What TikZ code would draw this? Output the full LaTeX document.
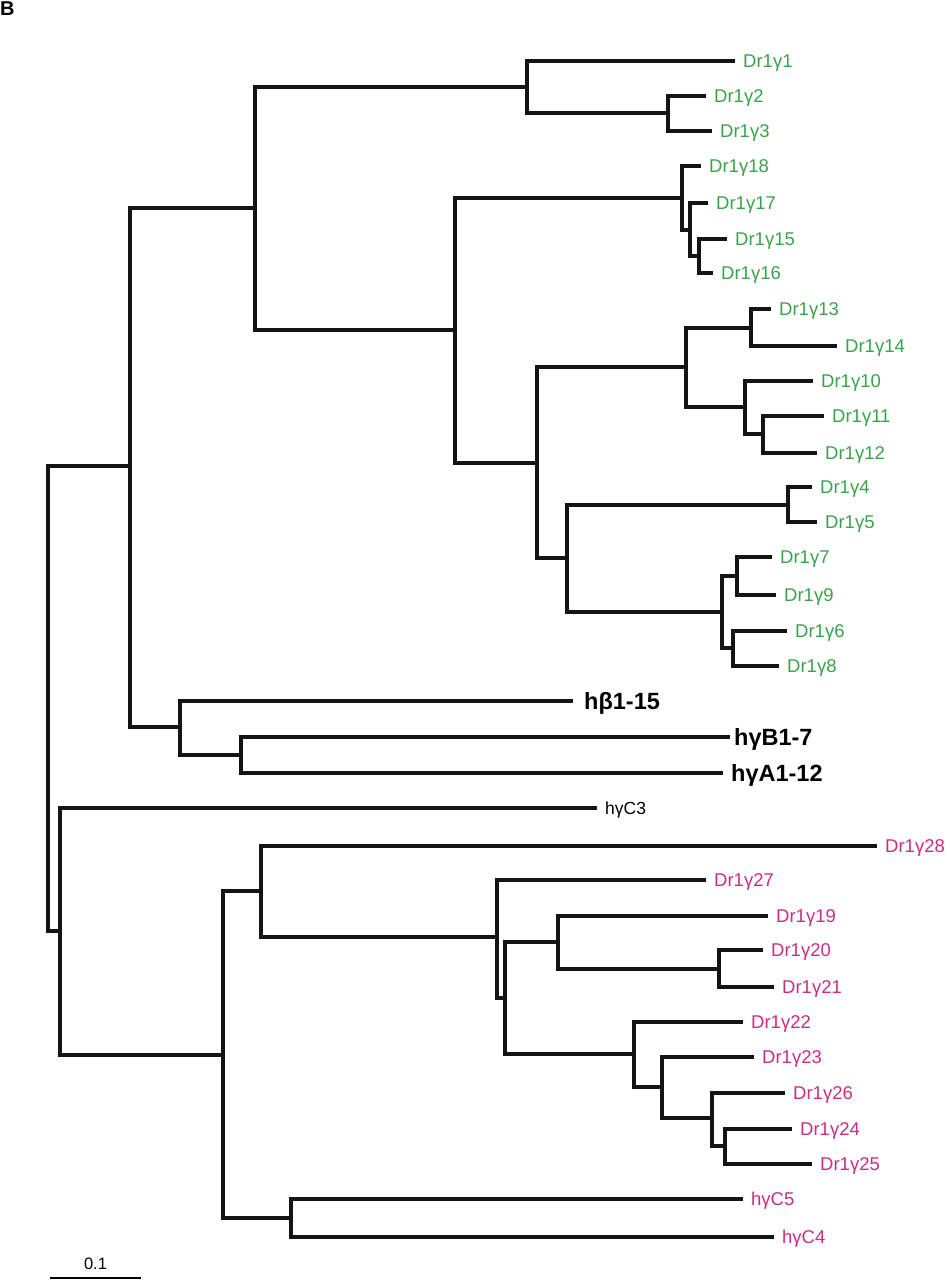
\documentclass[tikz,border=0pt]{standalone}
\usepackage{fontspec}
\setmainfont{Liberation Sans}
\definecolor{dgreen}{RGB}{58,162,72}
\definecolor{dmag}{RGB}{202,45,130}
\begin{document}
\begin{tikzpicture}[x=1pt,y=-1pt,
  branch/.style={line width=3.2pt, line join=miter, black!92},
  glab/.style={anchor=base west, inner sep=0pt, xshift=8pt, yshift=-6.6pt, font=\fontsize{18.5}{20}\selectfont, text=dgreen},
  mlab/.style={anchor=base west, inner sep=0pt, xshift=8pt, yshift=-6.6pt, font=\fontsize{18.5}{20}\selectfont, text=dmag},
  blab/.style={anchor=base west, inner sep=0pt, xshift=8pt, yshift=-8.4pt, font=\fontsize{23.5}{25}\selectfont\bfseries, text=black},
  klab/.style={anchor=base west, inner sep=0pt, xshift=8pt, yshift=-6.2pt, font=\fontsize{17.5}{19}\selectfont, text=black}]
\useasboundingbox (0,0) rectangle (950,1280);
% internal nodes
\coordinate (R) at (48,698);
\coordinate (A) at (130,466);
\coordinate (B) at (255,208);
\coordinate (B1) at (527,87);
\coordinate (B1a) at (668,113);
\coordinate (B2) at (455,330);
\coordinate (B3) at (682,198);
\coordinate (B3a) at (690,230);
\coordinate (B3b) at (699,256);
\coordinate (B4) at (537,463);
\coordinate (B5) at (686,367);
\coordinate (B5a) at (751,328);
\coordinate (B5b) at (745,407);
\coordinate (B5c) at (763,434);
\coordinate (B6) at (567,558);
\coordinate (B6a) at (788,505);
\coordinate (B6b) at (722,612);
\coordinate (B6c) at (737,576);
\coordinate (B6d) at (733,648);
\coordinate (H) at (180,727);
\coordinate (H2) at (241,755);
\coordinate (C) at (60,931);
\coordinate (D) at (223,1055);
\coordinate (E) at (261,891);
\coordinate (E2) at (497,937);
\coordinate (E3) at (505,998);
\coordinate (E4) at (558,942);
\coordinate (E4a) at (719,969);
\coordinate (E5) at (634,1054);
\coordinate (E6) at (662,1087);
\coordinate (E7) at (712,1118);
\coordinate (E8) at (725,1146);
\coordinate (F) at (291,1218);
% leaves
\coordinate (g1) at (735,61);
\coordinate (g2) at (706,96);
\coordinate (g3) at (712,131);
\coordinate (g18) at (701,166);
\coordinate (g17) at (708,203);
\coordinate (g15) at (727,239);
\coordinate (g16) at (713,273);
\coordinate (g13) at (771,309);
\coordinate (g14) at (837,346);
\coordinate (g10) at (813,381);
\coordinate (g11) at (824,416);
\coordinate (g12) at (817,453);
\coordinate (g4) at (812,487);
\coordinate (g5) at (817,522);
\coordinate (g7) at (772,557);
\coordinate (g9) at (776,595);
\coordinate (g6) at (787,631);
\coordinate (g8) at (779,666);
\coordinate (hb) at (573,701);
\coordinate (hgB) at (730,737);
\coordinate (hgA) at (723,773);
\coordinate (hgC3) at (597,808);
\coordinate (g28) at (877,846);
\coordinate (g27) at (706,880);
\coordinate (g19) at (768,916);
\coordinate (g20) at (763,950);
\coordinate (g21) at (774,987);
\coordinate (g22) at (743,1022);
\coordinate (g23) at (754,1057);
\coordinate (g26) at (785,1093);
\coordinate (g24) at (792,1129);
\coordinate (g25) at (812,1164);
\coordinate (hgC5) at (743,1199);
\coordinate (hgC4) at (774,1237);
% branches
\draw[branch] (R) |- (A) (R) |- (C)
  (A) |- (B) (A) |- (H)
  (B) |- (B1) (B) |- (B2)
  (B1) |- (g1) (B1) |- (B1a)
  (B1a) |- (g2) (B1a) |- (g3)
  (B2) |- (B3) (B2) |- (B4)
  (B3) |- (g18) (B3) |- (B3a)
  (B3a) |- (g17) (B3a) |- (B3b)
  (B3b) |- (g15) (B3b) |- (g16)
  (B4) |- (B5) (B4) |- (B6)
  (B5) |- (B5a) (B5) |- (B5b)
  (B5a) |- (g13) (B5a) |- (g14)
  (B5b) |- (g10) (B5b) |- (B5c)
  (B5c) |- (g11) (B5c) |- (g12)
  (B6) |- (B6a) (B6) |- (B6b)
  (B6a) |- (g4) (B6a) |- (g5)
  (B6b) |- (B6c) (B6b) |- (B6d)
  (B6c) |- (g7) (B6c) |- (g9)
  (B6d) |- (g6) (B6d) |- (g8)
  (H) |- (hb) (H) |- (H2)
  (H2) |- (hgB) (H2) |- (hgA)
  (C) |- (hgC3) (C) |- (D)
  (D) |- (E) (D) |- (F)
  (E) |- (g28) (E) |- (E2)
  (E2) |- (g27) (E2) |- (E3)
  (E3) |- (E4) (E3) |- (E5)
  (E4) |- (g19) (E4) |- (E4a)
  (E4a) |- (g20) (E4a) |- (g21)
  (E5) |- (g22) (E5) |- (E6)
  (E6) |- (g23) (E6) |- (E7)
  (E7) |- (g26) (E7) |- (E8)
  (E8) |- (g24) (E8) |- (g25)
  (F) |- (hgC5) (F) |- (hgC4);
% labels
\node[glab] (Lg1) at (g1) {Dr1γ1};
\node[glab] (Lg2) at (g2) {Dr1γ2};
\node[glab] (Lg3) at (g3) {Dr1γ3};
\node[glab] (Lg18) at (g18) {Dr1γ18};
\node[glab] (Lg17) at (g17) {Dr1γ17};
\node[glab] (Lg15) at (g15) {Dr1γ15};
\node[glab] (Lg16) at (g16) {Dr1γ16};
\node[glab] (Lg13) at (g13) {Dr1γ13};
\node[glab] (Lg14) at (g14) {Dr1γ14};
\node[glab] (Lg10) at (g10) {Dr1γ10};
\node[glab] (Lg11) at (g11) {Dr1γ11};
\node[glab] (Lg12) at (g12) {Dr1γ12};
\node[glab] (Lg4) at (g4) {Dr1γ4};
\node[glab] (Lg5) at (g5) {Dr1γ5};
\node[glab] (Lg7) at (g7) {Dr1γ7};
\node[glab] (Lg9) at (g9) {Dr1γ9};
\node[glab] (Lg6) at (g6) {Dr1γ6};
\node[glab] (Lg8) at (g8) {Dr1γ8};
\node[blab, xshift=3pt] (Lhb) at (hb) {hβ1-15};
\node[blab, xshift=-4pt] (LhgB) at (hgB) {hγB1-7};
\node[blab] (LhgA) at (hgA) {hγA1-12};
\node[klab] (LhgC3) at (hgC3) {hγC3};
\node[mlab] (Lg28) at (g28) {Dr1γ28};
\node[mlab] (Lg27) at (g27) {Dr1γ27};
\node[mlab] (Lg19) at (g19) {Dr1γ19};
\node[mlab] (Lg20) at (g20) {Dr1γ20};
\node[mlab] (Lg21) at (g21) {Dr1γ21};
\node[mlab] (Lg22) at (g22) {Dr1γ22};
\node[mlab] (Lg23) at (g23) {Dr1γ23};
\node[mlab] (Lg26) at (g26) {Dr1γ26};
\node[mlab] (Lg24) at (g24) {Dr1γ24};
\node[mlab] (Lg25) at (g25) {Dr1γ25};
\node[mlab] (LhgC5) at (hgC5) {hγC5};
\node[mlab] (LhgC4) at (hgC4) {hγC4};
% panel letter
\node[anchor=north west, inner sep=0pt, font=\fontsize{20}{21}\selectfont\bfseries] (panel) at (0,2) {B};
% scale bar
\coordinate (s1) at (50,1278);
\coordinate (s2) at (141,1278);
\draw[line width=1.8pt] (s1) -- (s2);
\node[inner sep=0pt, font=\fontsize{16.5}{18}\selectfont] (sl) at (95.5,1264) {0.1};
\end{tikzpicture}
\end{document}
